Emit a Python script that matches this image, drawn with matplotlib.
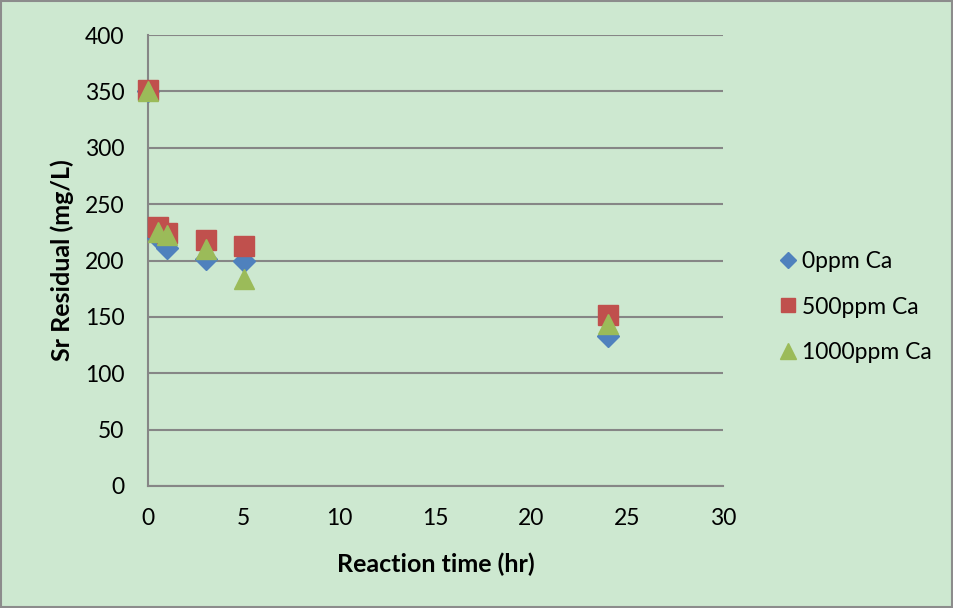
import matplotlib.pyplot as plt
import numpy as np

plt.rcParams['font.family'] = ['Lato', 'DejaVu Sans']

# Datos
time_hr = [0, 0.5, 1, 3, 5, 24]
sr_0ppm = [350, 220, 211, 201, 200, 133]
sr_500ppm = [351, 230, 224, 218, 213, 152]
sr_1000ppm = [350, 225, 223, 210, 184, 144]
series_names = ['0ppm Ca', '500ppm Ca', '1000ppm Ca']

bg = '#cde8d0'
fig = plt.figure(figsize=(9.54, 6.08), dpi=100, facecolor=bg)
ax = fig.add_axes([148 / 954, 1 - 486 / 608, (723 - 148) / 954, (486 - 35) / 608])
ax.set_facecolor(bg)

ax.plot(time_hr, sr_0ppm, 'D', color='#4f81bd', ms=11, label=series_names[0], zorder=3, clip_on=False)
ax.plot(time_hr, sr_500ppm, 's', color='#c0504d', ms=14, label=series_names[1], zorder=4, clip_on=False)
ax.plot(time_hr, sr_1000ppm, '^', color='#9bbb59', ms=15, label=series_names[2], zorder=5, clip_on=False)

ax.set_xlim(0, 30)
ax.set_ylim(0, 400)
ax.set_xticks(np.arange(0, 31, 5))
ax.set_yticks(np.arange(0, 401, 50))
ax.yaxis.grid(True, color='#868686', linewidth=1.5)
ax.set_axisbelow(True)
for side in ['top', 'right']:
    ax.spines[side].set_visible(False)
for side in ['left', 'bottom']:
    ax.spines[side].set_color('#868686')
    ax.spines[side].set_linewidth(1.5)
ax.tick_params(axis='both', length=0, labelsize=16.5)
ax.tick_params(axis='x', pad=16)
ax.tick_params(axis='y', pad=17)

ax.set_xlabel('Reaction time (hr)', fontsize=18, fontweight='bold', labelpad=17)
ax.set_ylabel('Sr Residual (mg/L)', fontsize=18, fontweight='bold', labelpad=8)

leg = fig.legend(loc='center left', bbox_to_anchor=(777 / 954, 1 - 307 / 608), frameon=False,
                 fontsize=16.5, handlelength=1.0, handletextpad=0.1, labelspacing=1.05,
                 markerscale=0.75, borderaxespad=0, borderpad=0)

fig.add_artist(plt.Rectangle((0.001, 0.001), 0.997, 0.997, transform=fig.transFigure,
                             fill=False, edgecolor='#8c8c8c', linewidth=1.5))

fig.savefig('out.png', dpi=100, facecolor=bg)
